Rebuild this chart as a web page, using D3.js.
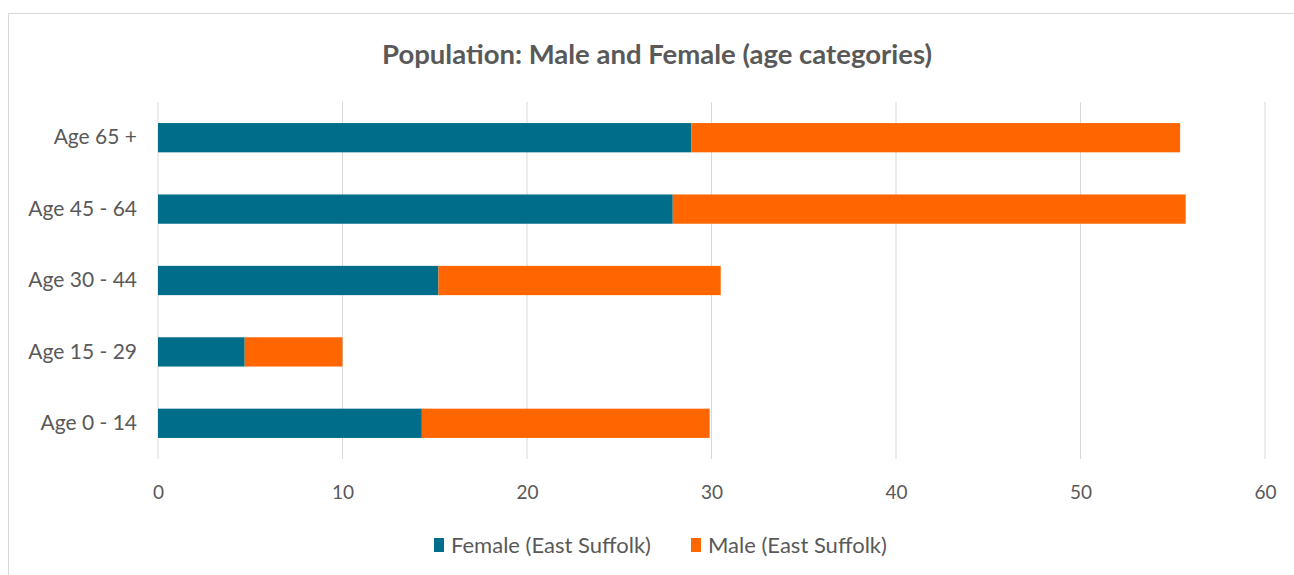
<!DOCTYPE html>
<html lang="en">
<head>
  <meta charset="UTF-8" />
  <title>Population: Male and Female (age categories)</title>
  <script src="https://d3js.org/d3.v7.min.js"></script>
  <style>
    body { margin: 0; background: #fff; font-family: Lato, "Open Sans", sans-serif; }
    .tick text { fill: #595959; }
  </style>
</head>
<body>
  <div id="chart"></div>
  <script>
    const categories = ["Age 65 +", "Age 45 - 64", "Age 30 - 44", "Age 15 - 29", "Age 0 - 14"];
    const female = [28.9, 27.9, 15.2, 4.7, 14.3];
    const male   = [26.5, 27.8, 15.3, 5.3, 15.6];
    const seriesNames = ["Female (East Suffolk)", "Male (East Suffolk)"];
    const xTicks = [0, 10, 20, 30, 40, 50, 60];

    const width = 1294, height = 575;
    const colors = ["#006E8A", "#FF6600"];

    const svg = d3.select("#chart").append("svg")
      .attr("width", width)
      .attr("height", height);

    // outer chart frame
    svg.append("rect")
      .attr("x", 8.5).attr("y", 13.5)
      .attr("width", 1300).attr("height", 600)
      .attr("fill", "#fff")
      .attr("stroke", "#d9d9d9");

    const x = d3.scaleLinear().domain([0, 60]).range([158, 1265]);
    const y = d3.scaleBand().domain(categories).range([102, 459]).paddingInner(0.59).paddingOuter(0.295);

    // gridlines
    svg.append("g").selectAll("line")
      .data(xTicks)
      .join("line")
        .attr("x1", d => x(d)).attr("x2", d => x(d))
        .attr("y1", 102).attr("y2", 459)
        .attr("stroke", "#d9d9d9")
        .attr("stroke-width", 1);

    // stacked data
    const rows = categories.map((c, i) => ({ cat: c, female: female[i], male: male[i] }));
    const stack = d3.stack().keys(["female", "male"])(rows);

    svg.append("g").selectAll("g")
      .data(stack)
      .join("g")
        .attr("fill", (d, i) => colors[i])
      .selectAll("rect")
      .data(d => d)
      .join("rect")
        .attr("x", d => x(d[0]))
        .attr("y", d => y(d.data.cat))
        .attr("width", d => x(d[1]) - x(d[0]))
        .attr("height", y.bandwidth());

    // x axis labels
    const xAxis = d3.axisBottom(x).tickValues(xTicks).tickSize(0).tickPadding(0);
    svg.append("g")
      .attr("transform", "translate(0,485)")
      .call(xAxis)
      .call(g => g.select(".domain").remove())
      .selectAll("text")
        .attr("font-size", 19)
        .attr("font-family", "Lato, sans-serif");

    // y axis labels
    const yAxis = d3.axisLeft(y).tickSize(0).tickPadding(0);
    svg.append("g")
      .attr("transform", "translate(137,0)")
      .call(yAxis)
      .call(g => g.select(".domain").remove())
      .selectAll("text")
        .attr("font-size", 21)
        .attr("font-family", "Lato, sans-serif");

    // title
    svg.append("text")
      .attr("x", 657).attr("y", 64)
      .attr("text-anchor", "middle")
      .attr("font-size", 27.5)
      .attr("font-weight", "bold")
      .attr("fill", "#595959")
      .text("Population: Male and Female (age categories)");

    // legend
    const legendX = [434, 691];
    const legend = svg.append("g").selectAll("g")
      .data(seriesNames)
      .join("g")
        .attr("transform", (d, i) => `translate(${legendX[i]},545)`);
    legend.append("rect")
      .attr("x", 0).attr("y", -7)
      .attr("width", 10).attr("height", 14)
      .attr("fill", (d, i) => colors[i]);
    legend.append("text")
      .attr("x", 17).attr("dy", "0.35em")
      .attr("font-size", 22)
      .attr("fill", "#595959")
      .text(d => d);
  </script>
</body>
</html>
